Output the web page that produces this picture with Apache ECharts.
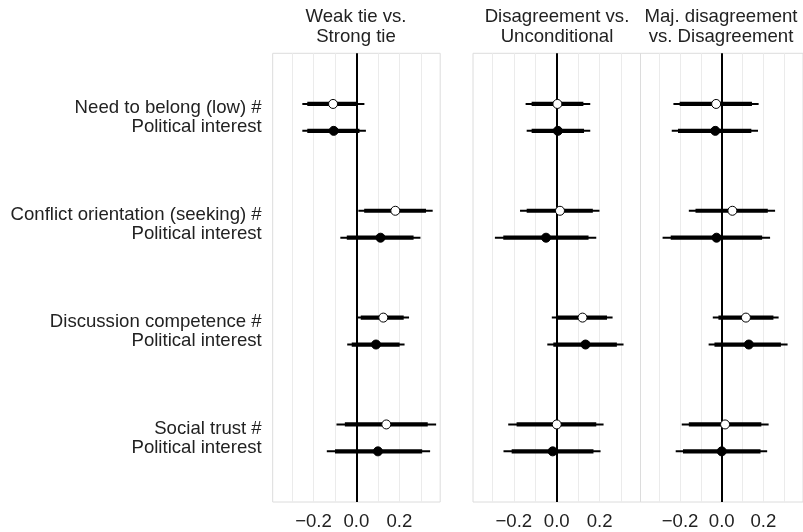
<!DOCTYPE html>
<html>
<head>
<meta charset="utf-8">
<script src="https://cdn.jsdelivr.net/npm/echarts@6/dist/echarts.min.js"></script>
<style>html,body{margin:0;padding:0;background:#fff}#c{width:803px;height:532px}</style>
</head>
<body>
<div id="c"></div>
<script>
// ---- data ----
const categories = [
  'Need to belong (low) #\nPolitical interest',
  'Conflict orientation (seeking) #\nPolitical interest',
  'Discussion competence #\nPolitical interest',
  'Social trust #\nPolitical interest'
];
const panelTitles = ['Weak tie vs.\nStrong tie', 'Disagreement vs.\nUnconditional', 'Maj. disagreement\nvs. Disagreement'];
const xTickValues = [-0.2, 0, 0.2];
const gridValues = [-0.3, -0.2, -0.1, 0.1, 0.2, 0.3];

// each row: [estimate, lower95, upper95, lower90, upper90]
const weakOpen = [
  [-0.109, -0.252, 0.037, -0.229, 0.005],
  [0.181, 0.009, 0.355, 0.036, 0.324],
  [0.125, 0.000, 0.245, 0.020, 0.220],
  [0.139, -0.093, 0.371, -0.054, 0.332]
];
const weakFilled = [
  [-0.106, -0.252, 0.044, -0.229, 0.014],
  [0.112, -0.075, 0.298, -0.045, 0.266],
  [0.091, -0.043, 0.224, -0.022, 0.201],
  [0.100, -0.138, 0.343, -0.100, 0.306]
];
const disagreeOpen = [
  [0.003, -0.145, 0.156, -0.117, 0.124],
  [0.015, -0.171, 0.199, -0.140, 0.168],
  [0.120, -0.023, 0.260, 0.000, 0.234],
  [0.000, -0.226, 0.218, -0.187, 0.184]
];
const disagreeFilled = [
  [0.005, -0.140, 0.156, -0.117, 0.127],
  [-0.050, -0.288, 0.184, -0.249, 0.148],
  [0.134, -0.044, 0.311, -0.016, 0.280],
  [-0.019, -0.248, 0.204, -0.210, 0.171]
];
const majOpen = [
  [-0.027, -0.232, 0.177, -0.202, 0.145],
  [0.051, -0.158, 0.256, -0.126, 0.221],
  [0.116, -0.043, 0.273, -0.016, 0.248],
  [0.016, -0.192, 0.225, -0.158, 0.190]
];
const majFilled = [
  [-0.031, -0.240, 0.174, -0.210, 0.142],
  [-0.025, -0.284, 0.232, -0.245, 0.194],
  [0.130, -0.063, 0.316, -0.035, 0.284],
  [0.000, -0.221, 0.218, -0.186, 0.186]
];

// ---- layout / style ----
const panels = [
  {open: weakOpen, filled: weakFilled, left: 272.7, titleX: 356},
  {open: disagreeOpen, filled: disagreeFilled, left: 473, titleX: 557},
  {open: majOpen, filled: majFilled, left: 640.5, titleX: 721}
];
const FONT = 'Liberation Sans, Arial, sans-serif';
const FS = 18.6;
const TXT = '#222222';
const OFF = 0.126;

const fmt = v => (v < 0 ? '\u2212' : '') + Math.abs(v).toFixed(1);

const grid = [], xAxis = [], yAxis = [], series = [], title = [];
panels.forEach((p, i) => {
  grid.push({left: p.left, width: 167.5, top: 53.3, height: 448.7, show: true,
    borderColor: '#dcdcdc', borderWidth: 1, backgroundColor: 'transparent'});
  title.push({text: panelTitles[i], left: p.titleX, top: 7, textAlign: 'center', padding: 0,
    textStyle: {fontFamily: FONT, fontSize: FS, fontWeight: 'normal', color: TXT, lineHeight: 20}});
  xAxis.push({gridIndex: i, type: 'value', min: -0.39, max: 0.39,
    axisLine: {show: false}, axisTick: {show: false}, splitLine: {show: false},
    axisLabel: {customValues: xTickValues, formatter: fmt, margin: 10,
      fontFamily: FONT, fontSize: FS, color: TXT}});
  yAxis.push({gridIndex: i, type: 'value', inverse: true, min: 0.4, max: 4.6,
    axisLine: {show: false}, axisTick: {show: false}, splitLine: {show: false},
    axisLabel: i === 0 ? {customValues: [1, 2, 3, 4], formatter: v => categories[Math.round(v) - 1],
      margin: 11, fontFamily: FONT, fontSize: FS, color: TXT, lineHeight: 19, align: 'right'} : {show: false}});
  // gridlines
  series.push({type: 'line', xAxisIndex: i, yAxisIndex: i, data: [], silent: true, z: 1,
    markLine: {z: 1, silent: true, symbol: ['none', 'none'], label: {show: false}, animation: false,
      lineStyle: {color: '#ebebeb', width: 1, type: 'solid'},
      data: gridValues.map(v => ({xAxis: v}))}});
  // zero line
  series.push({type: 'line', xAxisIndex: i, yAxisIndex: i, data: [], silent: true, z: 2,
    markLine: {z: 2, silent: true, symbol: ['none', 'none'], label: {show: false}, animation: false,
      lineStyle: {color: '#000', width: 2, type: 'solid'}, data: [{xAxis: 0}]}});
  // intervals
  const ciData = [];
  p.open.forEach((r, k) => ciData.push([r[1], r[2], r[3], r[4], k + 1 - OFF]));
  p.filled.forEach((r, k) => ciData.push([r[1], r[2], r[3], r[4], k + 1 + OFF]));
  series.push({type: 'custom', xAxisIndex: i, yAxisIndex: i, z: 3, silent: true,
    encode: {x: [0, 1, 2, 3], y: 4}, data: ciData,
    renderItem: (params, api) => {
      const y = api.value(4);
      const a = api.coord([api.value(0), y]), b = api.coord([api.value(1), y]);
      const c = api.coord([api.value(2), y]), d = api.coord([api.value(3), y]);
      return {type: 'group', children: [
        {type: 'line', shape: {x1: a[0], y1: a[1], x2: b[0], y2: b[1]}, style: {stroke: '#000', lineWidth: 2}},
        {type: 'line', shape: {x1: c[0], y1: c[1], x2: d[0], y2: d[1]}, style: {stroke: '#000', lineWidth: 4.2}}
      ]};
    }});
  series.push({type: 'scatter', xAxisIndex: i, yAxisIndex: i, z: 4, silent: true, symbol: 'circle', symbolSize: 9,
    itemStyle: {color: '#fff', borderColor: '#000', borderWidth: 1, opacity: 1},
    data: p.open.map((r, k) => [r[0], k + 1 - OFF])});
  series.push({type: 'scatter', xAxisIndex: i, yAxisIndex: i, z: 4, silent: true, symbol: 'circle', symbolSize: 9,
    itemStyle: {color: '#000', borderColor: '#000', borderWidth: 1, opacity: 1},
    data: p.filled.map((r, k) => [r[0], k + 1 + OFF])});
});

const chart = echarts.init(document.getElementById('c'), null, {renderer: 'canvas'});
chart.setOption({animation: false, backgroundColor: '#fff', title, grid, xAxis, yAxis, series});
</script>
</body>
</html>
